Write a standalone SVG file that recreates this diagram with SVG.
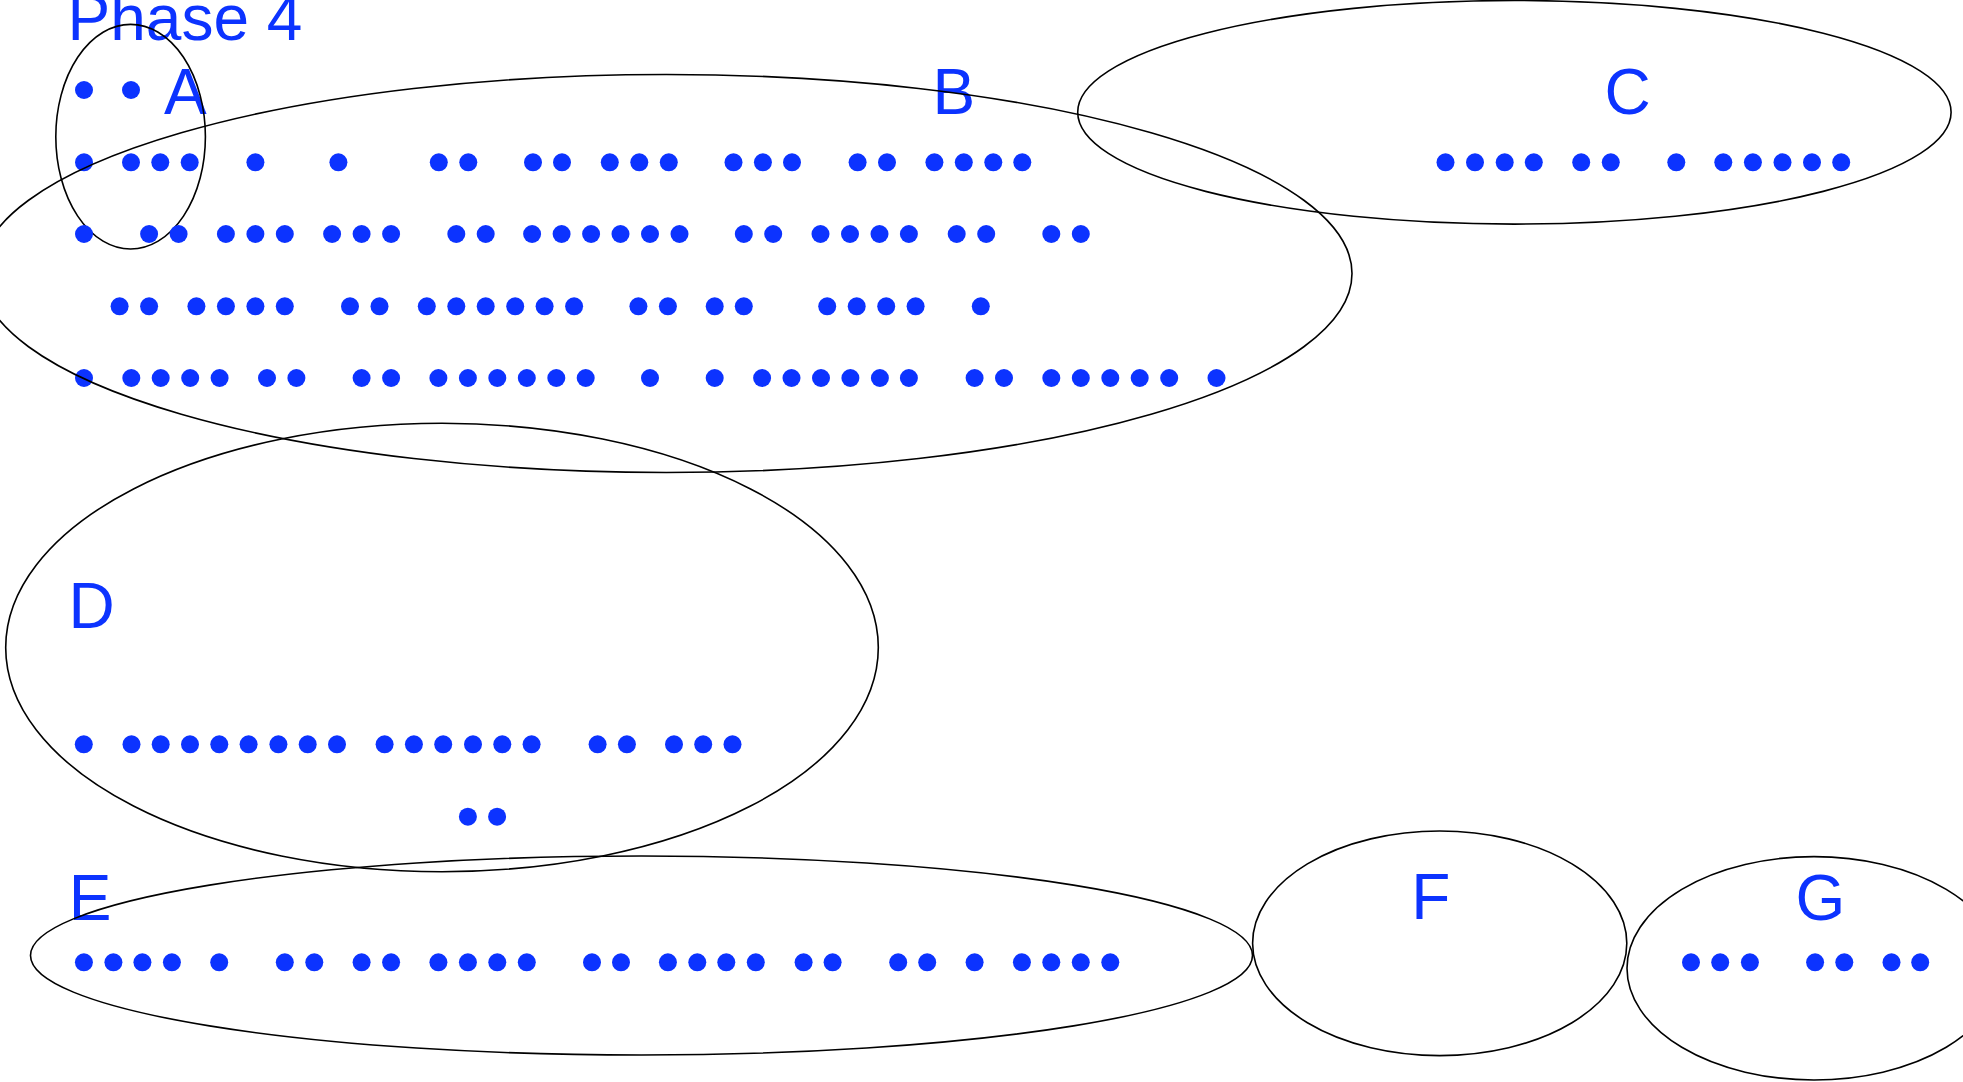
<svg xmlns="http://www.w3.org/2000/svg" width="1963" height="1082" viewBox="0 0 1963 1082">
  <style>
    .bg { fill: #ffffff; }
    .set { fill: none; stroke: #000000; stroke-width: 1.6; }
    .d { fill: #0c33ff; }
    .lbl { fill: #0c33ff; font-family: "Liberation Sans", Arial, sans-serif; font-size: 64px; }
  </style>
  <rect class="bg" x="0" y="0" width="1963" height="1082"/>

  <text class="lbl" x="67.5" y="40">Phase 4</text>

  <!-- set A -->
  <g id="A">
    <circle class="d" cx="84" cy="90" r="9"/>
    <circle class="d" cx="131" cy="90" r="9"/>
    <text class="lbl" x="164" y="114">A</text>
    <ellipse class="set" cx="130.6" cy="136.7" rx="74.8" ry="112.3"/>
  </g>

  <!-- set B -->
  <g id="B">
    <g>
      <circle class="d" cx="84" cy="162.3" r="9"/>
      <circle class="d" cx="131" cy="162.3" r="9"/>
      <circle class="d" cx="160.3" cy="162.3" r="9"/>
      <circle class="d" cx="189.7" cy="162.3" r="9"/>
      <circle class="d" cx="255.4" cy="162.3" r="9"/>
      <circle class="d" cx="338.4" cy="162.3" r="9"/>
      <circle class="d" cx="438.8" cy="162.3" r="9"/>
      <circle class="d" cx="468.3" cy="162.3" r="9"/>
      <circle class="d" cx="533" cy="162.3" r="9"/>
      <circle class="d" cx="562" cy="162.3" r="9"/>
      <circle class="d" cx="609.8" cy="162.3" r="9"/>
      <circle class="d" cx="639.3" cy="162.3" r="9"/>
      <circle class="d" cx="668.8" cy="162.3" r="9"/>
      <circle class="d" cx="733.5" cy="162.3" r="9"/>
      <circle class="d" cx="762.9" cy="162.3" r="9"/>
      <circle class="d" cx="792" cy="162.3" r="9"/>
      <circle class="d" cx="857.6" cy="162.3" r="9"/>
      <circle class="d" cx="887" cy="162.3" r="9"/>
      <circle class="d" cx="934.4" cy="162.3" r="9"/>
      <circle class="d" cx="963.8" cy="162.3" r="9"/>
      <circle class="d" cx="993.3" cy="162.3" r="9"/>
      <circle class="d" cx="1022.3" cy="162.3" r="9"/>
    </g>
    <g>
      <circle class="d" cx="84" cy="234" r="9"/>
      <circle class="d" cx="149.1" cy="234" r="9"/>
      <circle class="d" cx="178.6" cy="234" r="9"/>
      <circle class="d" cx="225.9" cy="234" r="9"/>
      <circle class="d" cx="255.4" cy="234" r="9"/>
      <circle class="d" cx="284.8" cy="234" r="9"/>
      <circle class="d" cx="332.1" cy="234" r="9"/>
      <circle class="d" cx="361.6" cy="234" r="9"/>
      <circle class="d" cx="391.1" cy="234" r="9"/>
      <circle class="d" cx="456.3" cy="234" r="9"/>
      <circle class="d" cx="485.7" cy="234" r="9"/>
      <circle class="d" cx="532.1" cy="234" r="9"/>
      <circle class="d" cx="561.6" cy="234" r="9"/>
      <circle class="d" cx="591.1" cy="234" r="9"/>
      <circle class="d" cx="620.5" cy="234" r="9"/>
      <circle class="d" cx="650" cy="234" r="9"/>
      <circle class="d" cx="679.5" cy="234" r="9"/>
      <circle class="d" cx="743.8" cy="234" r="9"/>
      <circle class="d" cx="773.2" cy="234" r="9"/>
      <circle class="d" cx="820.5" cy="234" r="9"/>
      <circle class="d" cx="850" cy="234" r="9"/>
      <circle class="d" cx="879.5" cy="234" r="9"/>
      <circle class="d" cx="908.9" cy="234" r="9"/>
      <circle class="d" cx="956.7" cy="234" r="9"/>
      <circle class="d" cx="986.2" cy="234" r="9"/>
      <circle class="d" cx="1051.3" cy="234" r="9"/>
      <circle class="d" cx="1080.8" cy="234" r="9"/>
    </g>
    <g>
      <circle class="d" cx="119.6" cy="306.3" r="9"/>
      <circle class="d" cx="149.1" cy="306.3" r="9"/>
      <circle class="d" cx="196.4" cy="306.3" r="9"/>
      <circle class="d" cx="225.9" cy="306.3" r="9"/>
      <circle class="d" cx="255.4" cy="306.3" r="9"/>
      <circle class="d" cx="284.8" cy="306.3" r="9"/>
      <circle class="d" cx="350" cy="306.3" r="9"/>
      <circle class="d" cx="379.5" cy="306.3" r="9"/>
      <circle class="d" cx="426.8" cy="306.3" r="9"/>
      <circle class="d" cx="456.3" cy="306.3" r="9"/>
      <circle class="d" cx="485.7" cy="306.3" r="9"/>
      <circle class="d" cx="515.2" cy="306.3" r="9"/>
      <circle class="d" cx="544.6" cy="306.3" r="9"/>
      <circle class="d" cx="574.1" cy="306.3" r="9"/>
      <circle class="d" cx="638.4" cy="306.3" r="9"/>
      <circle class="d" cx="667.9" cy="306.3" r="9"/>
      <circle class="d" cx="714.7" cy="306.3" r="9"/>
      <circle class="d" cx="743.8" cy="306.3" r="9"/>
      <circle class="d" cx="827.2" cy="306.3" r="9"/>
      <circle class="d" cx="856.7" cy="306.3" r="9"/>
      <circle class="d" cx="886.2" cy="306.3" r="9"/>
      <circle class="d" cx="915.6" cy="306.3" r="9"/>
      <circle class="d" cx="980.8" cy="306.3" r="9"/>
    </g>
    <g>
      <circle class="d" cx="84" cy="378" r="9"/>
      <circle class="d" cx="131.3" cy="378" r="9"/>
      <circle class="d" cx="160.7" cy="378" r="9"/>
      <circle class="d" cx="190.2" cy="378" r="9"/>
      <circle class="d" cx="219.6" cy="378" r="9"/>
      <circle class="d" cx="267" cy="378" r="9"/>
      <circle class="d" cx="296.4" cy="378" r="9"/>
      <circle class="d" cx="361.6" cy="378" r="9"/>
      <circle class="d" cx="391.1" cy="378" r="9"/>
      <circle class="d" cx="438.4" cy="378" r="9"/>
      <circle class="d" cx="467.9" cy="378" r="9"/>
      <circle class="d" cx="497.3" cy="378" r="9"/>
      <circle class="d" cx="526.8" cy="378" r="9"/>
      <circle class="d" cx="556.3" cy="378" r="9"/>
      <circle class="d" cx="585.7" cy="378" r="9"/>
      <circle class="d" cx="650" cy="378" r="9"/>
      <circle class="d" cx="714.7" cy="378" r="9"/>
      <circle class="d" cx="762.1" cy="378" r="9"/>
      <circle class="d" cx="791.5" cy="378" r="9"/>
      <circle class="d" cx="821" cy="378" r="9"/>
      <circle class="d" cx="850.4" cy="378" r="9"/>
      <circle class="d" cx="879.9" cy="378" r="9"/>
      <circle class="d" cx="908.9" cy="378" r="9"/>
      <circle class="d" cx="974.6" cy="378" r="9"/>
      <circle class="d" cx="1004" cy="378" r="9"/>
      <circle class="d" cx="1051.3" cy="378" r="9"/>
      <circle class="d" cx="1080.8" cy="378" r="9"/>
      <circle class="d" cx="1110.3" cy="378" r="9"/>
      <circle class="d" cx="1139.7" cy="378" r="9"/>
      <circle class="d" cx="1169.2" cy="378" r="9"/>
      <circle class="d" cx="1216.5" cy="378" r="9"/>
    </g>
    <text class="lbl" x="932.4" y="114">B</text>
    <ellipse class="set" cx="666.2" cy="273.5" rx="685.8" ry="199"/>
  </g>

  <!-- set C -->
  <g id="C">
    <circle class="d" cx="1445.5" cy="162.3" r="9"/>
    <circle class="d" cx="1475" cy="162.3" r="9"/>
    <circle class="d" cx="1504.7" cy="162.3" r="9"/>
    <circle class="d" cx="1533.8" cy="162.3" r="9"/>
    <circle class="d" cx="1581.2" cy="162.3" r="9"/>
    <circle class="d" cx="1610.8" cy="162.3" r="9"/>
    <circle class="d" cx="1676.3" cy="162.3" r="9"/>
    <circle class="d" cx="1723.3" cy="162.3" r="9"/>
    <circle class="d" cx="1752.9" cy="162.3" r="9"/>
    <circle class="d" cx="1782.5" cy="162.3" r="9"/>
    <circle class="d" cx="1812" cy="162.3" r="9"/>
    <circle class="d" cx="1841.2" cy="162.3" r="9"/>
    <text class="lbl" x="1604.6" y="114">C</text>
    <ellipse class="set" cx="1514.4" cy="112.3" rx="436.7" ry="111.8"/>
  </g>

  <!-- set D -->
  <g id="D">
    <circle class="d" cx="83.8" cy="744.3" r="9"/>
    <circle class="d" cx="131.5" cy="744.3" r="9"/>
    <circle class="d" cx="160.7" cy="744.3" r="9"/>
    <circle class="d" cx="190" cy="744.3" r="9"/>
    <circle class="d" cx="219.3" cy="744.3" r="9"/>
    <circle class="d" cx="248.6" cy="744.3" r="9"/>
    <circle class="d" cx="278.4" cy="744.3" r="9"/>
    <circle class="d" cx="307.7" cy="744.3" r="9"/>
    <circle class="d" cx="337" cy="744.3" r="9"/>
    <circle class="d" cx="384.6" cy="744.3" r="9"/>
    <circle class="d" cx="413.9" cy="744.3" r="9"/>
    <circle class="d" cx="443.2" cy="744.3" r="9"/>
    <circle class="d" cx="473" cy="744.3" r="9"/>
    <circle class="d" cx="502.3" cy="744.3" r="9"/>
    <circle class="d" cx="531.6" cy="744.3" r="9"/>
    <circle class="d" cx="597.6" cy="744.3" r="9"/>
    <circle class="d" cx="626.9" cy="744.3" r="9"/>
    <circle class="d" cx="674" cy="744.3" r="9"/>
    <circle class="d" cx="703.2" cy="744.3" r="9"/>
    <circle class="d" cx="732.5" cy="744.3" r="9"/>
    <circle class="d" cx="467.9" cy="816.7" r="9"/>
    <circle class="d" cx="497.1" cy="816.7" r="9"/>
    <text class="lbl" x="68.6" y="628.3">D</text>
    <ellipse class="set" cx="442" cy="647.5" rx="436.3" ry="224.2"/>
  </g>

  <!-- set E -->
  <g id="E">
    <circle class="d" cx="83.9" cy="962.3" r="9"/>
    <circle class="d" cx="113.4" cy="962.3" r="9"/>
    <circle class="d" cx="142.4" cy="962.3" r="9"/>
    <circle class="d" cx="171.9" cy="962.3" r="9"/>
    <circle class="d" cx="219.2" cy="962.3" r="9"/>
    <circle class="d" cx="284.8" cy="962.3" r="9"/>
    <circle class="d" cx="314.3" cy="962.3" r="9"/>
    <circle class="d" cx="361.6" cy="962.3" r="9"/>
    <circle class="d" cx="391.1" cy="962.3" r="9"/>
    <circle class="d" cx="438.4" cy="962.3" r="9"/>
    <circle class="d" cx="467.9" cy="962.3" r="9"/>
    <circle class="d" cx="497.3" cy="962.3" r="9"/>
    <circle class="d" cx="526.8" cy="962.3" r="9"/>
    <circle class="d" cx="592" cy="962.3" r="9"/>
    <circle class="d" cx="621" cy="962.3" r="9"/>
    <circle class="d" cx="667.9" cy="962.3" r="9"/>
    <circle class="d" cx="697.3" cy="962.3" r="9"/>
    <circle class="d" cx="726.3" cy="962.3" r="9"/>
    <circle class="d" cx="755.8" cy="962.3" r="9"/>
    <circle class="d" cx="803.6" cy="962.3" r="9"/>
    <circle class="d" cx="832.6" cy="962.3" r="9"/>
    <circle class="d" cx="898.2" cy="962.3" r="9"/>
    <circle class="d" cx="927.2" cy="962.3" r="9"/>
    <circle class="d" cx="974.6" cy="962.3" r="9"/>
    <circle class="d" cx="1021.9" cy="962.3" r="9"/>
    <circle class="d" cx="1051.3" cy="962.3" r="9"/>
    <circle class="d" cx="1080.8" cy="962.3" r="9"/>
    <circle class="d" cx="1110.3" cy="962.3" r="9"/>
    <text class="lbl" x="68.7" y="920">E</text>
    <ellipse class="set" cx="641.5" cy="955.5" rx="611" ry="99.5"/>
  </g>

  <!-- set F -->
  <g id="F">
    <text class="lbl" x="1411.3" y="919">F</text>
    <ellipse class="set" cx="1439.7" cy="943.3" rx="187.1" ry="112.3"/>
  </g>

  <!-- set G -->
  <g id="G">
    <circle class="d" cx="1691" cy="962.3" r="9"/>
    <circle class="d" cx="1720.2" cy="962.3" r="9"/>
    <circle class="d" cx="1749.9" cy="962.3" r="9"/>
    <circle class="d" cx="1815.1" cy="962.3" r="9"/>
    <circle class="d" cx="1844.3" cy="962.3" r="9"/>
    <circle class="d" cx="1891.5" cy="962.3" r="9"/>
    <circle class="d" cx="1920.2" cy="962.3" r="9"/>
    <text class="lbl" x="1795.4" y="920">G</text>
    <ellipse class="set" cx="1814" cy="968.3" rx="187" ry="111.7"/>
  </g>
</svg>
